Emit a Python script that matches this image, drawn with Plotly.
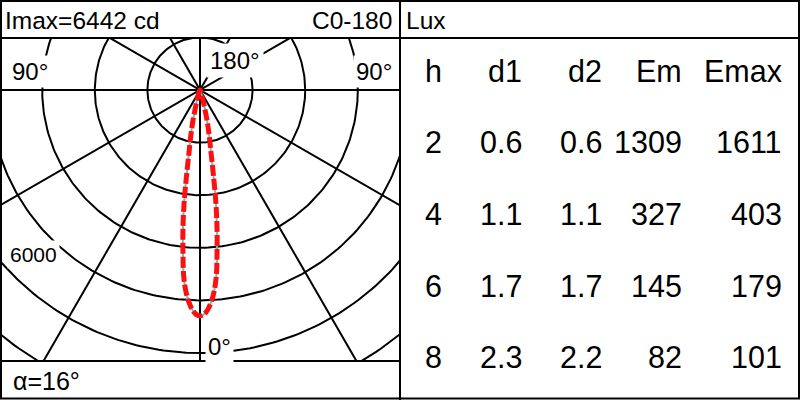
import numpy as np
import plotly.graph_objects as go

# ---- data ----
imax = 6442
beam_angle = 16
angles_deg = [0, 1, 2, 3, 4, 5, 6, 7, 8, 9, 10, 11, 12, 13, 15, 17, 20, 25, 30, 40, 90]
c0_180 = [6442, 6400, 6270, 6060, 5760, 5330, 4650, 3990, 3260, 2420, 1800, 1450, 1150, 900, 450, 260, 130, 60, 20, 5, 0]
c90_270 = [6442, 6400, 6270, 6060, 5760, 5330, 4650, 3990, 3260, 2420, 1800, 1450, 1150, 900, 450, 260, 130, 60, 20, 5, 0]
ring_step = 1500
ring_label = 6000

tbl_h = [2, 4, 6, 8]
tbl_d1 = ["0.6", "1.1", "1.7", "2.3"]
tbl_d2 = ["0.6", "1.1", "1.7", "2.2"]
tbl_em = [1309, 327, 145, 82]
tbl_emax = [1611, 403, 179, 101]
tbl_head = ["h", "d1", "d2", "Em", "Emax"]

W, H = 800, 400
FONT = "Liberation Sans, Arial, sans-serif"
PXS = 52.6 / ring_step  # px per cd

def px(x):
    return x / W

def py(y):
    return 1 - y / H

# plot area in pixels
L, R, T, B = 0, 400, 38, 361
CX, CY = 200, 90

def to_xy(ang, inten):
    a = np.radians(ang)
    return list(np.array(inten) * np.sin(a)), list(-np.array(inten) * np.cos(a))

fig = go.Figure()

# grid circles
t = np.linspace(0, 2 * np.pi, 361)
for k in range(1, 8):
    r = ring_step * k
    fig.add_trace(go.Scatter(x=r * np.cos(t), y=r * np.sin(t), mode="lines",
                             line=dict(color="black", width=2), hoverinfo="skip"))
# radial lines
for a in [0, 30, 60, 90, 120, 150]:
    ar = np.radians(a)
    big = 15000
    fig.add_trace(go.Scatter(x=[-big * np.cos(ar), big * np.cos(ar)],
                             y=[-big * np.sin(ar), big * np.sin(ar)], mode="lines",
                             line=dict(color="black", width=2), hoverinfo="skip"))

# curves
def full_curve(vals):
    ang = [-a for a in angles_deg[::-1]] + angles_deg[1:]
    inten = vals[::-1] + vals[1:]
    return to_xy(ang, inten)

x2, y2 = full_curve(c90_270)
fig.add_trace(go.Scatter(x=x2, y=y2, mode="lines", line=dict(color="#5cc8c8", width=2, shape="spline"),
                         hoverinfo="skip"))
x1, y1 = full_curve(c0_180)
fig.add_trace(go.Scatter(x=x1, y=y1, mode="lines",
                         line=dict(color="#ff1010", width=5, dash="11px,3px", shape="spline"),
                         hoverinfo="skip"))

fig.update_xaxes(visible=False, range=[(L - CX) / PXS, (R - CX) / PXS], fixedrange=True)
fig.update_yaxes(visible=False, range=[-(B - CY) / PXS, (CY - T) / PXS], fixedrange=True)

shapes = []
def line(x0, y0, x1_, y1_, w=2):
    shapes.append(dict(type="line", xref="paper", yref="paper", x0=px(x0), y0=py(y0), x1=px(x1_), y1=py(y1_),
                       line=dict(color="black", width=w)))

# borders
shapes.append(dict(type="rect", xref="paper", yref="paper", x0=px(1), y0=py(1), x1=px(799), y1=py(398.5),
                   line=dict(color="black", width=2)))
line(0, 38, 800, 38)
line(400, 0, 400, 400)
line(0, 361, 400, 361)

annotations = []
def txt(x, y, s, size, anchor="left", bg=None, pad=1):
    d = dict(x=px(x), y=py(y), xref="paper", yref="paper", text=s, showarrow=False,
             xanchor=anchor, yanchor="middle", font=dict(family=FONT, size=size, color="black"))
    if bg:
        d.update(bgcolor=bg, borderpad=pad)
    annotations.append(d)

txt(3, 20, f"Imax={imax} cd", 24.5)
txt(394, 20, "C0-180", 24.5, anchor="right")
txt(404, 20, "Lux", 24.5)
txt(9, 72, "90°", 24, bg="white", pad=2)
txt(395, 72, "90°", 24, anchor="right", bg="white", pad=2)
txt(206, 61, "180°", 24, bg="white", pad=3)
txt(205, 346, "0°", 24, bg="white", pad=2)
txt(7, 254, str(ring_label), 21, bg="white", pad=2)
txt(11, 381, f"α={beam_angle}°", 25)

col_right = [444, 524, 604, 684, 784]
row_y = [71, 142.5, 214, 285.5, 357]
for j, hd in enumerate(tbl_head):
    txt(col_right[j], row_y[0], hd, 30.5, anchor="right")
for i in range(len(tbl_h)):
    vals = [str(tbl_h[i]), tbl_d1[i], tbl_d2[i], str(tbl_em[i]), str(tbl_emax[i])]
    for j, v in enumerate(vals):
        txt(col_right[j], row_y[i + 1], v, 30.5, anchor="right")

fig.update_layout(
    width=W, height=H, margin=dict(l=0, r=0, t=0, b=0),
    paper_bgcolor="white", plot_bgcolor="white", showlegend=False,
    xaxis=dict(domain=[px(L), px(R)]),
    yaxis=dict(domain=[py(B), py(T)]),
    shapes=shapes, annotations=annotations,
)

fig.write_html("out.html", config={"displayModeBar": False},
               post_script="document.body.style.margin='0px';document.body.style.overflow='hidden';")
